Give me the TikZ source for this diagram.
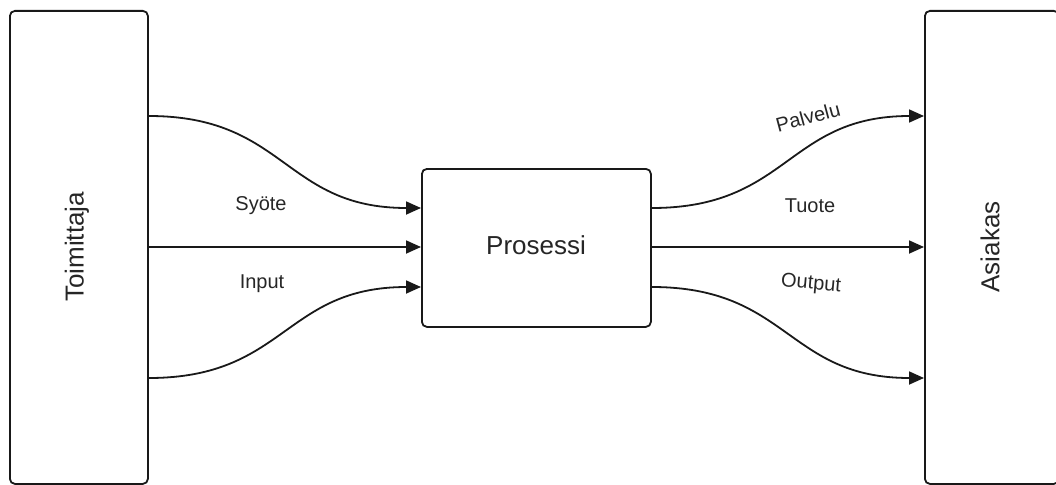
\documentclass[tikz,border=0pt]{standalone}
\usepackage{fontspec}
\setmainfont{Liberation Sans}
\usetikzlibrary{arrows.meta,calc}
\begin{document}
\begin{tikzpicture}[x=1pt,y=-1pt,
  box/.style={draw=black!90, line width=1.8pt, rounded corners=5pt, inner sep=0pt, anchor=north west},
  flow/.style={line width=1.8pt, draw=black!90, -{Triangle[length=15pt,width=13pt]}},
  lbl/.style={font=\fontsize{20}{24}\selectfont, text=black!85, inner sep=0pt},
  big/.style={font=\fontsize{26}{30}\selectfont, text=black!85, inner sep=0pt}]
\useasboundingbox (0,0) rectangle (1056,484);
\clip (0,0) rectangle (1056,484);

% the three blocks
\node[box, minimum width=138pt, minimum height=473pt] (sup) at (9,10) {};
\node[box, minimum width=229pt, minimum height=158pt] (proc) at (421,168) {};
\node[box, minimum width=134pt, minimum height=473pt] (cust) at (924,10) {};

\node[big, rotate=90] (suptext) at (77,247) {Toimittaja};
\node[big] (proctext) at (536,245) {Prosessi};
\node[big, rotate=90] (custtext) at (990,247) {Asiakas};

% ports on the block sides
\coordinate (sA) at (sup.east |- 0,116);
\coordinate (sB) at (sup.east |- 0,247);
\coordinate (sC) at (sup.east |- 0,378);
\coordinate (pA) at (proc.west |- 0,208);
\coordinate (pB) at (proc.west |- 0,247);
\coordinate (pC) at (proc.west |- 0,287);
\coordinate (qA) at (proc.east |- 0,208);
\coordinate (qB) at (proc.east |- 0,247);
\coordinate (qC) at (proc.east |- 0,287);
\coordinate (cA) at (cust.west |- 0,116);
\coordinate (cB) at (cust.west |- 0,247);
\coordinate (cC) at (cust.west |- 0,378);

% inputs
\draw[flow] (sA) .. controls ($(sA)+(137,0)$) and ($(pA)-(137,0)$) .. (pA);
\draw[flow] (sB) -- (pB);
\draw[flow] (sC) .. controls ($(sC)+(137,0)$) and ($(pC)-(137,0)$) .. (pC);

% outputs
\draw[flow] (qA) .. controls ($(qA)+(137,0)$) and ($(cA)-(137,0)$) .. (cA);
\draw[flow] (qB) -- (cB);
\draw[flow] (qC) .. controls ($(qC)+(137,0)$) and ($(cC)-(137,0)$) .. (cC);

% flow labels
\node[lbl] (l1) at (261,206) {Syöte};
\node[lbl] (l2) at (262,284) {Input};
\node[lbl, rotate=15] (l3) at (808,117) {Palvelu};
\node[lbl] (l4) at (810,206) {Tuote};
\node[lbl, rotate=-5] (l5) at (811,284) {Output};
\end{tikzpicture}
\end{document}
